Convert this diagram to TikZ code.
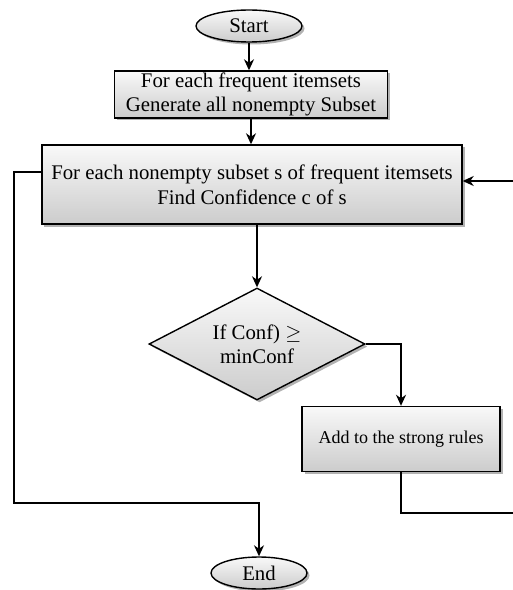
\documentclass[tikz,border=0pt]{standalone}
\usepackage{fontspec}
\setmainfont{Liberation Serif}
\usetikzlibrary{shapes.geometric,arrows.meta,shadows}
\begin{document}
\begin{tikzpicture}[x=1bp,y=-1bp,
  grayfill/.style={top color=gray!5, bottom color=gray!40, draw=black, line width=1.4bp},
  shd/.style={drop shadow={shadow xshift=2.5bp, shadow yshift=-2.5bp, opacity=0.3, fill=black}},
  boxstyle/.style={rectangle, grayfill, shd, align=center, font=\fontsize{20.8bp}{24bp}\selectfont, inner sep=0pt},
  term/.style={ellipse, grayfill, shd, inner sep=0pt, font=\fontsize{20.8bp}{24bp}\selectfont},
  decision/.style={diamond, grayfill, shd, inner sep=0pt, align=center, font=\fontsize{20.8bp}{24bp}\selectfont},
  arr/.style={line width=1.6bp, -{Stealth[length=11bp,width=10bp,inset=3.5bp]}},
  ln/.style={line width=1.3bp}
]
\useasboundingbox (0,0) rectangle (513,590);

\node[term, minimum width=106bp, minimum height=32bp] (start) at (249,26) {Start};
\node[boxstyle, minimum width=273bp, minimum height=47bp] (b1) at (251,94.5) {For each frequent itemsets\\Generate all nonempty Subset};
\node[boxstyle, font=\fontsize{20.8bp}{25bp}\selectfont, minimum width=420bp, minimum height=79bp] (b2) at (252,184.5) {For each nonempty subset s of frequent itemsets\\Find Confidence c of s};
\node[decision, minimum width=216bp, minimum height=112bp, aspect=1.93] (dia) at (257,344) {If Conf) $\geq$\\minConf};
\node[boxstyle, font=\fontsize{18bp}{22bp}\selectfont, minimum width=198bp, minimum height=65bp] (b3) at (401,439) {Add to the strong rules};
\node[term, minimum width=96bp, minimum height=32bp] (end) at (259,573) {End};

\coordinate (ra) at (513,181);
\coordinate (rb) at (513,513);
\coordinate (lt) at (14,172);
\coordinate (lb) at (14,503);

\draw[arr] (start.south) -- (start.south |- b1.north);
\draw[arr] (b1.south) -- (b1.south |- b2.north);
\draw[arr] (b2.south -| dia.north) -- (dia.north);
\draw[arr] (dia.east) -| (b3.north);
\draw[ln] (b3.south) |- (rb);
\draw[arr] (ra) -- (ra -| b2.east);
\draw[arr] (b2.west |- lt) -- (lt) -- (lb) -- (lb -| end.north) -- (end.north);
\end{tikzpicture}
\end{document}
